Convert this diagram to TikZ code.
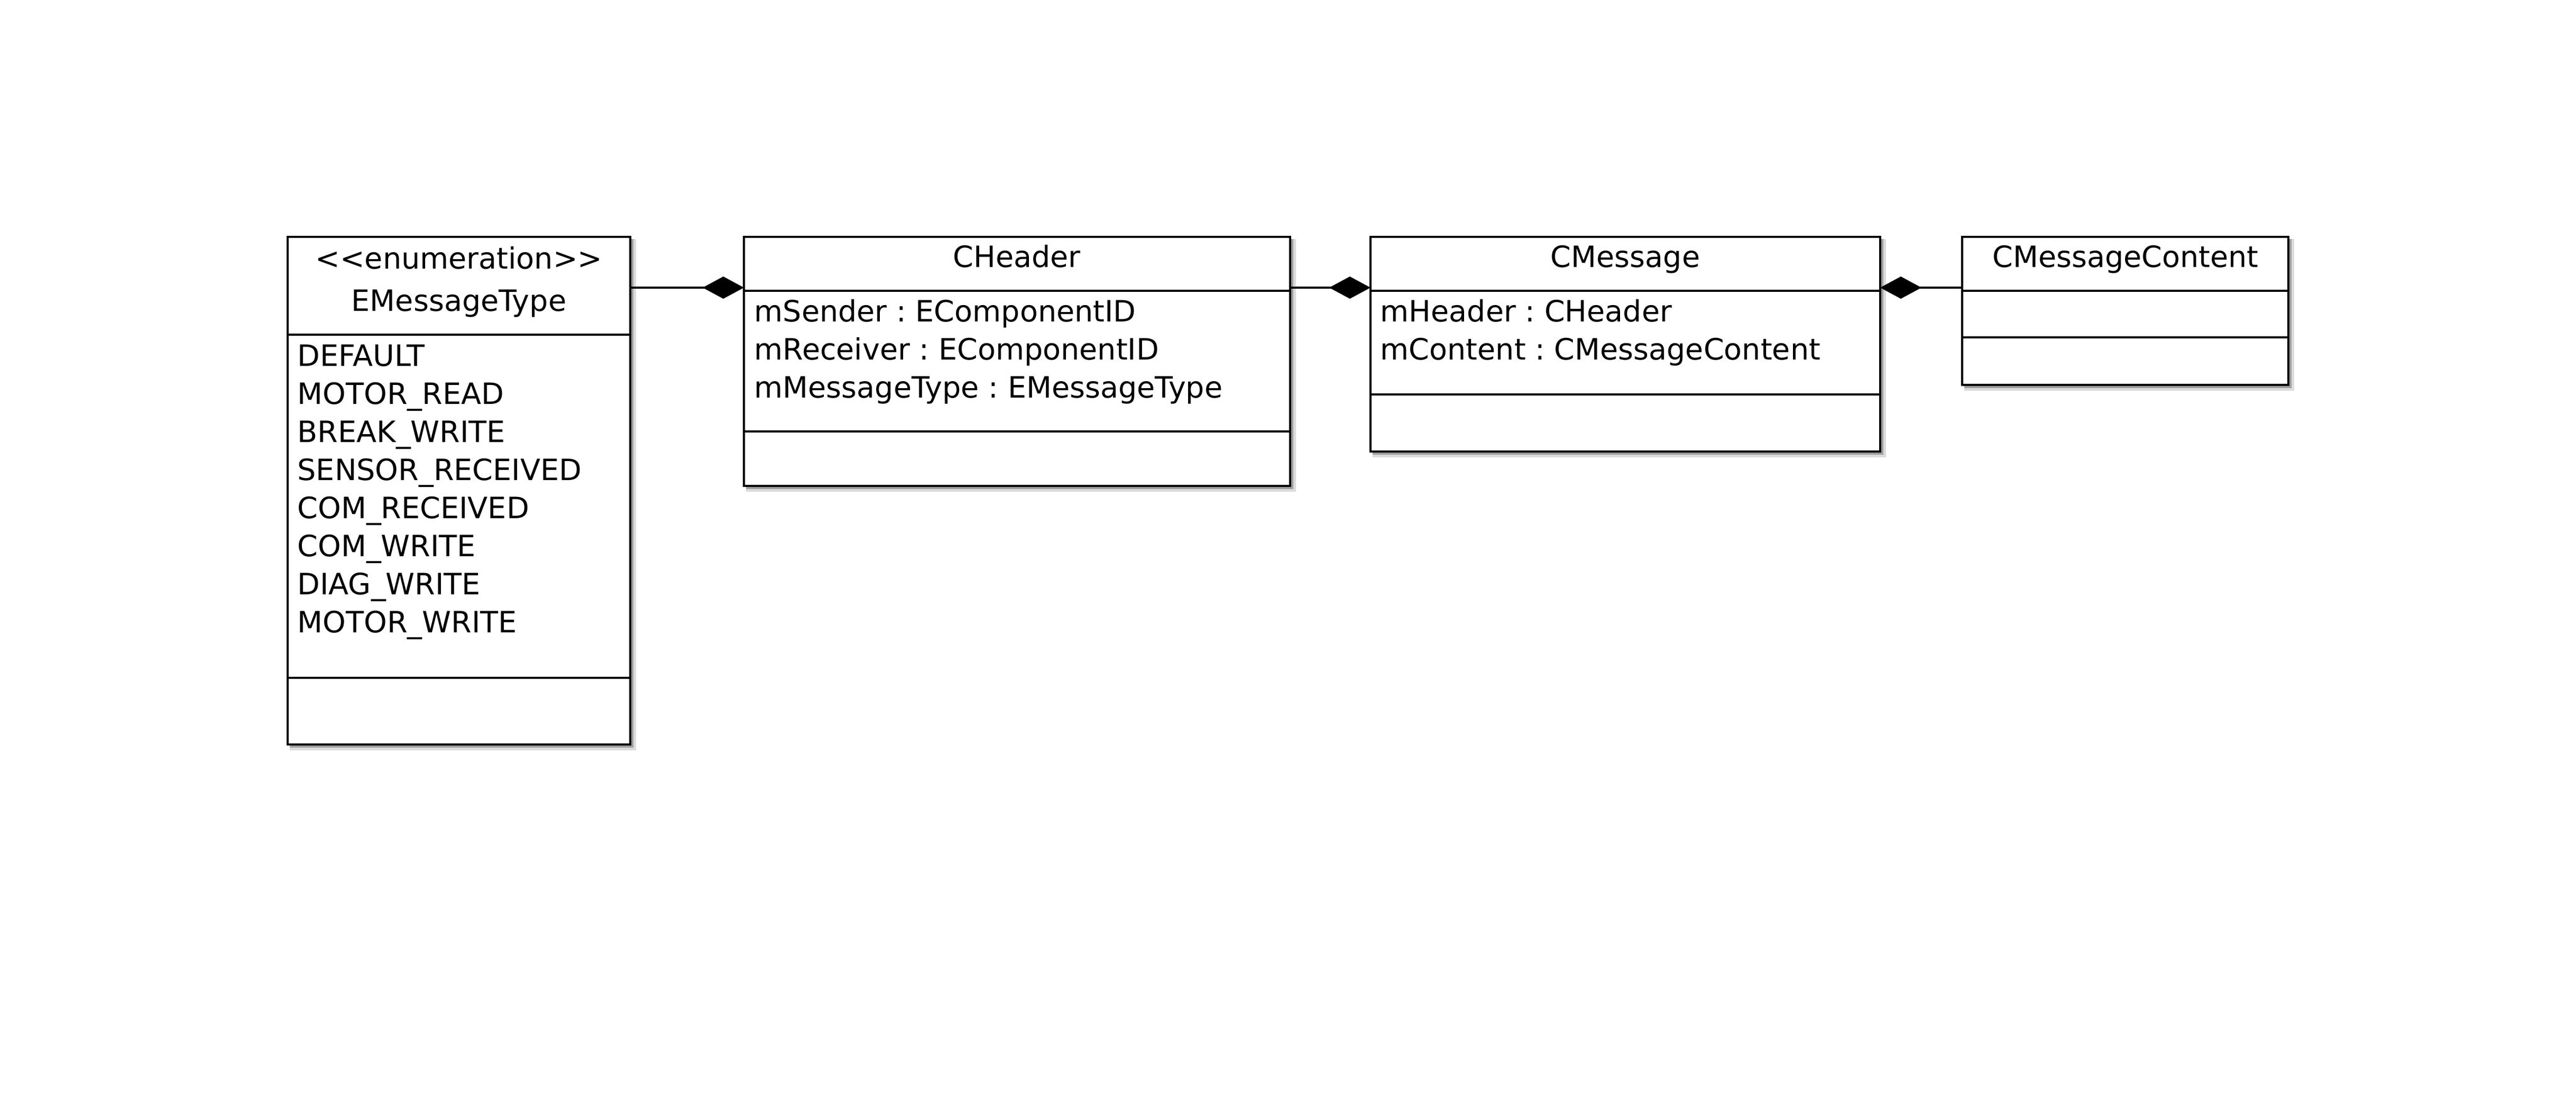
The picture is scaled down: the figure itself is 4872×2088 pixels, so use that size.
\documentclass[tikz,border=0pt]{standalone}
\usepackage{fontspec}
\setmainfont{DejaVu Sans}[Ligatures=TeXOff]
\usetikzlibrary{arrows.meta}
\frenchspacing
\tikzset{
  classbox/.style={draw=black, line width=0.033cm, fill=white, rectangle, inner sep=0pt, outer sep=0pt, anchor=north west},
  divline/.style={draw=black, line width=0.033cm},
  shadowA/.style={fill=black!38},
  shadowB/.style={fill=black!14},
  attr/.style={anchor=base west, inner sep=0pt, font=\fontsize{15.8}{18}\selectfont},
  ttl/.style={anchor=base, inner sep=0pt, font=\fontsize{15.8}{18}\selectfont},
  compo/.style={draw=black, line width=0.033cm, -{Diamond[length=0.78cm, width=0.42cm]}},
}
\newcommand\umlclass[5]{%
  \fill[shadowB] (#2+4,#3+4) rectangle (#4+11,#5+11);
  \fill[shadowA] (#2+4,#3+4) rectangle (#4+6,#5+6);
  \node[classbox, minimum width={(#4-#2)*0.01cm}, minimum height={(#5-#3)*0.01cm}] (#1) at (#2,#3) {};
}
\begin{document}
\begin{tikzpicture}[x=0.01cm, y=-0.01cm]
\fill[white] (0,0) rectangle (4872,2088);
\useasboundingbox (0,0) rectangle (4872,2088);

% EMessageType
\umlclass{enum}{544}{448}{1192}{1408}
\draw[divline] (544,633) -- (1192,633);
\draw[divline] (544,1282) -- (1192,1282);
\node[ttl] (enumst) at (868,508) {<<enumeration>>};
\node[ttl] (enumname) at (868,588) {EMessageType};
\foreach \t [count=\i] in {DEFAULT, MOTOR\_READ, BREAK\_WRITE, SENSOR\_RECEIVED, COM\_RECEIVED, COM\_WRITE, DIAG\_WRITE, MOTOR\_WRITE}
  \node[attr] (ev\i) at (562,{692+72*(\i-1)}) {\t};

% CHeader
\umlclass{cheader}{1407}{448}{2440}{919}
\draw[divline] (1407,550) -- (2440,550);
\draw[divline] (1407,816) -- (2440,816);
\node[ttl] (chname) at (1923,505) {CHeader};
\node[attr] (ch1) at (1426,608) {mSender : EComponentID};
\node[attr] (ch2) at (1426,680) {mReceiver : EComponentID};
\node[attr] (ch3) at (1426,752) {mMessageType : EMessageType};

% CMessage
\umlclass{cmessage}{2592}{448}{3556}{854}
\draw[divline] (2592,550) -- (3556,550);
\draw[divline] (2592,746) -- (3556,746);
\node[ttl] (cmname) at (3074,505) {CMessage};
\node[attr] (cm1) at (2610,608) {mHeader : CHeader};
\node[attr] (cm2) at (2610,680) {mContent : CMessageContent};

% CMessageContent
\umlclass{content}{3711}{448}{4328}{728}
\draw[divline] (3711,550) -- (4328,550);
\draw[divline] (3711,638) -- (4328,638);
\node[ttl] (ccname) at (4020,505) {CMessageContent};

% connectors
\coordinate (lev) at (0,544);
\draw[compo] (enum.east |- lev) -- (cheader.west |- lev);
\draw[compo] (cheader.east |- lev) -- (cmessage.west |- lev);
\draw[compo] (content.west |- lev) -- (cmessage.east |- lev);
\end{tikzpicture}
\end{document}
